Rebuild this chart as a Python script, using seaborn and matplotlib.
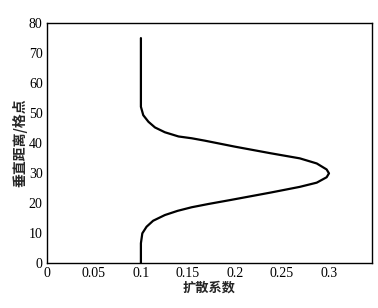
import matplotlib
matplotlib.use("Agg")
import matplotlib.pyplot as plt
import seaborn as sns
import pandas as pd

height = [0, 6.6, 9.9, 12.1, 14.1, 16.0, 17.4, 18.6, 19.7, 21.0, 23.5, 25.4, 26.8, 28.6, 29.9,
          31.2, 33.2, 34.9, 36.6, 38.8, 40.8, 41.6, 42.2, 43.6, 45.2, 47.1, 49.3, 52.1, 75]
coef = [0.1, 0.1, 0.1015, 0.106, 0.113, 0.1255, 0.139, 0.154, 0.172, 0.195, 0.238, 0.269, 0.287, 0.2975, 0.300,
        0.2975, 0.287, 0.269, 0.238, 0.200, 0.168, 0.154, 0.140, 0.1255, 0.115, 0.108, 0.1025, 0.1, 0.1]
xticks = [0, 0.05, 0.1, 0.15, 0.2, 0.25, 0.3]
xticklabels = ["0", "0.05", "0.1", "0.15", "0.2", "0.25", "0.3"]
yticks = [0, 10, 20, 30, 40, 50, 60, 70, 80]

sns.set_style("white")
plt.rcParams['font.family'] = ['Liberation Serif', 'Noto Sans CJK SC']

df = pd.DataFrame({"coef": coef, "height": height})
fig = plt.figure(figsize=(3.78, 3.08), dpi=100)
ax = fig.add_axes([0.124, 0.146, 0.86, 0.779])
sns.lineplot(data=df, x="coef", y="height", sort=False, estimator=None, color="black", linewidth=1.6, ax=ax)

ax.set_xlim(0, 0.3457)
ax.set_ylim(0, 80)
ax.set_xticks(xticks)
ax.set_xticklabels(xticklabels)
ax.set_yticks(yticks)
ax.tick_params(direction="in", length=3, width=0.8, labelsize=10, colors="black", pad=3)
for s in ax.spines.values():
    s.set_color("black")
    s.set_linewidth(1.0)
ax.set_xlabel("扩散系数", family=['Noto Sans CJK SC'], fontsize=9.5, fontweight="bold", labelpad=0)
ax.set_ylabel("垂直距离/格点", family=['Noto Sans CJK SC'], fontsize=10, fontweight="bold", labelpad=1)
fig.savefig("out.png", dpi=100)
